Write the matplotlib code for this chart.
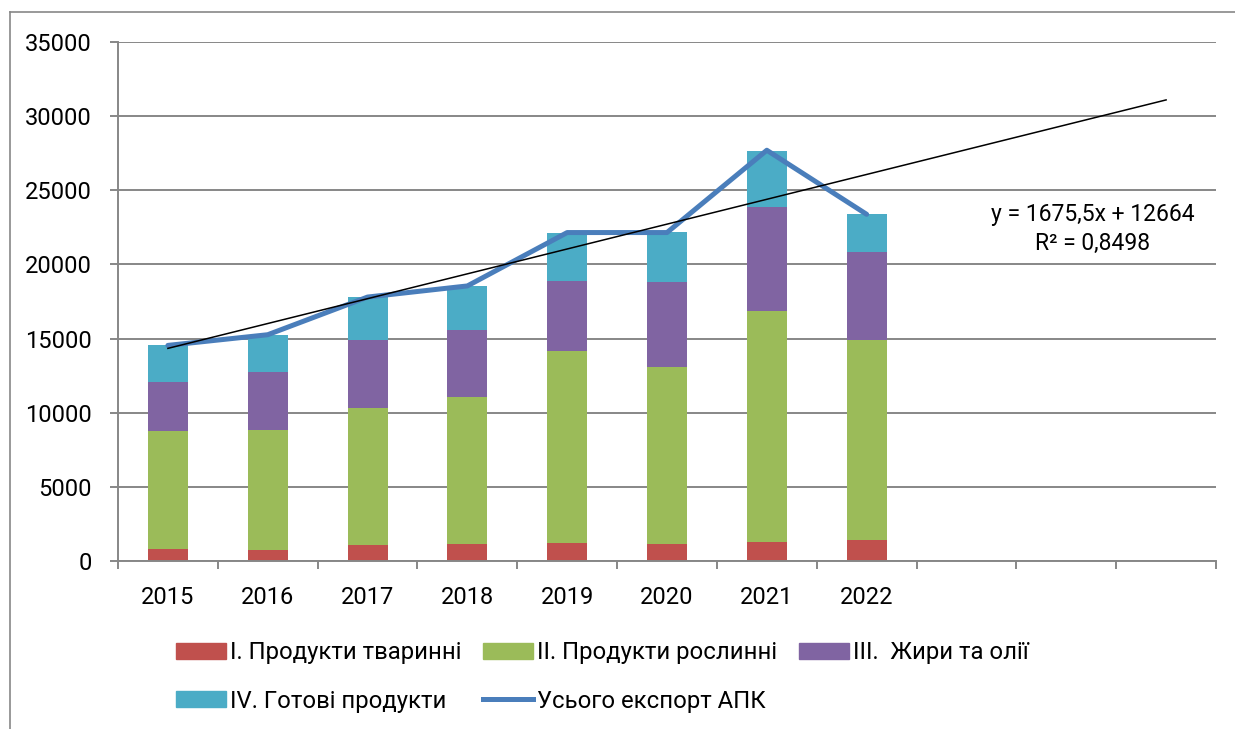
import matplotlib.pyplot as plt
import numpy as np
from matplotlib.lines import Line2D
from matplotlib.patches import Patch

plt.rcParams['font.family'] = ['Roboto', 'DejaVu Sans']

# data
years = ['2015', '2016', '2017', '2018', '2019', '2020', '2021', '2022', '', '', '']
animal = [780, 770, 1080, 1170, 1240, 1170, 1300, 1440]
plant = [7990, 8090, 9240, 9910, 12940, 11910, 15560, 13490]
fats = [3320, 3910, 4610, 4500, 4720, 5710, 7040, 5930]
ready = [2450, 2490, 2870, 2970, 3200, 3370, 3780, 2520]
total = [14540, 15260, 17800, 18550, 22150, 22150, 27700, 23380]
slope, intercept = 1675.5, 12664

labels = ['I. Продукти тваринні', 'II. Продукти рослинні', 'III.  Жири та олії',
          'IV. Готові продукти', 'Усього експорт АПК']
colors = ['#C0504D', '#9BBB59', '#8064A2', '#4BACC6']
grid_c = '#878787'

fig = plt.figure(figsize=(12.35, 7.29), dpi=100)
ax = fig.add_axes([118 / 1235, 1 - 561 / 729, (1216 - 118) / 1235, (561 - 42) / 729])

x = np.arange(len(animal))
bottom = np.zeros(len(animal))
for vals, c in zip([animal, plant, fats, ready], colors):
    ax.bar(x, vals, width=0.4, bottom=bottom, color=c, zorder=2)
    bottom += np.array(vals)

ax.plot(x, total, color='#4A7EBB', lw=3.6, solid_joinstyle='round',
        solid_capstyle='round', zorder=3)

xt = np.arange(len(years))
ax.plot(xt, slope * (xt + 1) + intercept, color='black', lw=1.1, zorder=4)

ax.set_xlim(-0.5, len(years) - 0.5)
ax.set_ylim(0, 35000)
ax.set_yticks(range(0, 35001, 5000))
ax.yaxis.grid(True, color=grid_c, lw=1.4)
ax.set_axisbelow(True)

ax.set_xticks(xt)
ax.set_xticklabels(years)
ax.set_xticks(np.arange(-0.5, len(years)), minor=True)
ax.tick_params(axis='x', which='major', length=0, pad=18, labelsize=17)
ax.tick_params(axis='x', which='minor', length=6, width=1.4, color=grid_c, direction='out')
ax.tick_params(axis='y', length=6, width=1.4, color=grid_c, pad=13, labelsize=17)

for s in ['top', 'right']:
    ax.spines[s].set_visible(False)
for s in ['left', 'bottom']:
    ax.spines[s].set_color(grid_c)
    ax.spines[s].set_linewidth(1.4)

fig.text(1093 / 1235, 1 - 229 / 729, 'y = 1675,5x + 12664\nR² = 0,8498',
         ha='center', va='center', fontsize=16.5, linespacing=1.35)

handles = [Patch(color=c) for c in colors]
handles.append(Line2D([0], [0], color='#4A7EBB', lw=3.6))
order = [0, 3, 1, 4, 2]  # legend fills column by column
fig.legend([handles[i] for i in order], [labels[i] for i in order], ncol=3,
           loc='center left', bbox_to_anchor=(176 / 1235, 1 - 677 / 729), frameon=False,
           borderpad=0, borderaxespad=0,
           fontsize=17.2, handlelength=2.1, handleheight=0.65, handletextpad=0.17,
           columnspacing=0.9, labelspacing=1.05)

# outer chart border (cut off at right and bottom)
fig.add_artist(Line2D([9.5 / 1235, 9.5 / 1235], [0, 1 - 12 / 729], color=grid_c, lw=1.2))
fig.add_artist(Line2D([9.5 / 1235, 1], [1 - 12 / 729, 1 - 12 / 729], color=grid_c, lw=1.2))

fig.savefig('out.png', dpi=100)
